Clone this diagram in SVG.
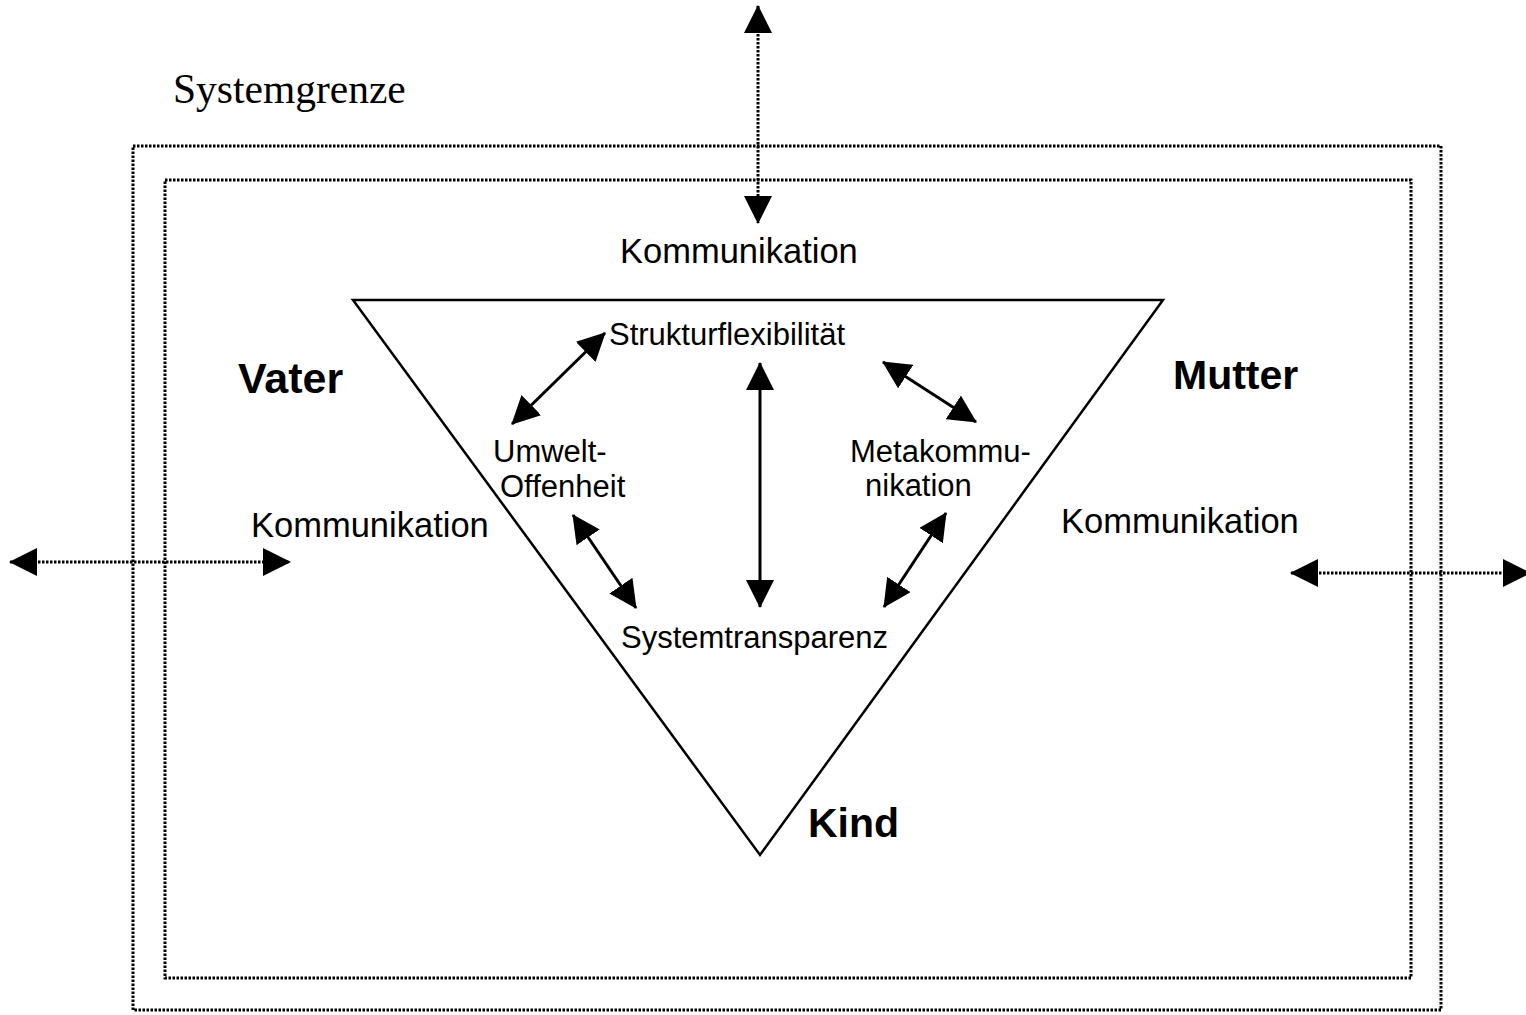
<svg xmlns="http://www.w3.org/2000/svg" width="1526" height="1015" viewBox="0 0 1526 1015">
<style>
.dot{fill:none;stroke:#000;stroke-width:3;stroke-dasharray:2.5 1.5}
.sol{fill:none;stroke:#000;stroke-width:3}
.tri{fill:#fff;stroke:#000;stroke-width:2.5}
.k{font-family:"Liberation Sans",Arial,sans-serif;font-size:34.5px;fill:#000}
.s{font-family:"Liberation Sans",Arial,sans-serif;font-size:31px;fill:#000}
.b{font-family:"Liberation Sans",Arial,sans-serif;font-size:41px;font-weight:bold;fill:#000}
.t{font-family:"Liberation Serif","Times New Roman",serif;font-size:41.5px;fill:#000}
</style>
<defs>
<marker id="ah" markerUnits="userSpaceOnUse" markerWidth="28" markerHeight="28" viewBox="0 0 28 28" refX="27" refY="14" orient="auto-start-reverse">
<path d="M0,0 L28,14 L0,28 z" fill="#000"/>
</marker>
</defs>
<rect width="1526" height="1015" fill="#fff"/>
<g id="systemgrenze">
<rect class="dot" x="133" y="146" width="1308" height="864"/>
<rect class="dot" x="165" y="180" width="1246" height="798"/>
<text class="t" x="173" y="103">Systemgrenze</text>
</g>
<g id="triangle">
<polygon class="tri" points="353,300 1163,300 760,855"/>
</g>
<g id="connectors">
<line class="dot" x1="758" y1="6" x2="758" y2="223" marker-start="url(#ah)" marker-end="url(#ah)"/>
<line class="dot" x1="10" y1="562" x2="290" y2="562" marker-start="url(#ah)" marker-end="url(#ah)"/>
<line class="dot" x1="1291" y1="573" x2="1530" y2="573" marker-start="url(#ah)" marker-end="url(#ah)"/>
<line class="sol" x1="605" y1="333" x2="512" y2="424" marker-start="url(#ah)" marker-end="url(#ah)"/>
<line class="sol" x1="883" y1="362" x2="976" y2="422" marker-start="url(#ah)" marker-end="url(#ah)"/>
<line class="sol" x1="573" y1="515" x2="636" y2="608" marker-start="url(#ah)" marker-end="url(#ah)"/>
<line class="sol" x1="946" y1="513" x2="884" y2="607" marker-start="url(#ah)" marker-end="url(#ah)"/>
<line class="sol" x1="760" y1="363" x2="760" y2="607" marker-start="url(#ah)" marker-end="url(#ah)"/>
</g>
<g id="kommunikation-top"><text class="k" x="620" y="263">Kommunikation</text></g>
<g id="kommunikation-left"><text class="k" x="251" y="537">Kommunikation</text></g>
<g id="kommunikation-right"><text class="k" x="1061" y="533">Kommunikation</text></g>
<g id="vater"><text class="b" x="238" y="393" style="font-size:43px">Vater</text></g>
<g id="mutter"><text class="b" x="1173" y="389">Mutter</text></g>
<g id="kind"><text class="b" x="808" y="837">Kind</text></g>
<g id="strukturflexibilitaet"><text class="s" x="609" y="345">Strukturflexibilität</text></g>
<g id="umwelt-offenheit"><text class="s" x="493" y="462">Umwelt-</text><text class="s" x="500" y="497">Offenheit</text></g>
<g id="metakommunikation"><text class="s" x="850" y="462">Metakommu-</text><text class="s" x="865" y="496">nikation</text></g>
<g id="systemtransparenz"><text class="s" x="621" y="648">Systemtransparenz</text></g>
</svg>
